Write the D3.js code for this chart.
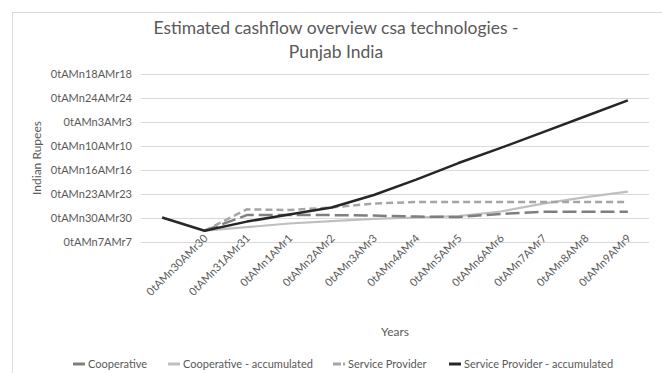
<!DOCTYPE html>
<html>
<head>
<meta charset="utf-8">
<script src="https://cdn.jsdelivr.net/npm/d3@7"></script>
<style>
  body { margin: 0; background: #fff; }
  svg text { font-family: Lato, "Open Sans", sans-serif; fill: #595959; }
</style>
</head>
<body>
<div id="chart"></div>
<script>
// categories (the first one has no label in the original)
const categories = ["", "0tAMn30AMr30", "0tAMn31AMr31", "0tAMn1AMr1", "0tAMn2AMr2", "0tAMn3AMr3",
    "0tAMn4AMr4", "0tAMn5AMr5", "0tAMn6AMr6", "0tAMn7AMr7", "0tAMn8AMr8", "0tAMn9AMr9"];

// y tick labels, bottom to top
const yTickLabels = ["0tAMn7AMr7", "0tAMn30AMr30", "0tAMn23AMr23", "0tAMn16AMr16",
    "0tAMn10AMr10", "0tAMn3AMr3", "0tAMn24AMr24", "0tAMn18AMr18"];

const seriesNames = ["Cooperative", "Cooperative - accumulated", "Service Provider", "Service Provider - accumulated"];

const cooperative = [null, 0.47, 1.12, 1.12, 1.12, 1.10, 1.06, 1.04, 1.17, 1.26, 1.26, 1.26];
const cooperativeAcc = [null, 0.47, 0.62, 0.77, 0.87, 0.96, 1.02, 1.08, 1.27, 1.60, 1.87, 2.10];
const serviceProvider = [null, 0.47, 1.36, 1.33, 1.44, 1.60, 1.67, 1.67, 1.67, 1.67, 1.67, 1.67];
const serviceProviderAcc = [1.02, 0.47, 0.85, 1.15, 1.44, 1.96, 2.60, 3.29, 3.92, 4.58, 5.24, 5.90];

const width = 662, height = 373;
const margin = {top: 74, right: 13, bottom: 131, left: 141};

const svg = d3.select("#chart").append("svg")
    .attr("width", width)
    .attr("height", height);

svg.append("rect")
    .attr("x", 12.5).attr("y", 12.5)
    .attr("width", width).attr("height", height)
    .attr("fill", "#fff")
    .attr("stroke", "#d9d9d9");

const x = d3.scaleBand()
    .domain(categories.map(function (d, i) { return i; }))
    .range([margin.left, width - margin.right]);

const y = d3.scaleLinear()
    .domain([0, 7])
    .range([height - margin.bottom, margin.top]);

// gridlines + y labels
const yAxis = svg.append("g")
    .attr("transform", "translate(" + margin.left + ",0)")
    .call(d3.axisLeft(y)
        .tickValues(d3.range(0, 8))
        .tickSize(-(width - margin.right - margin.left))
        .tickPadding(9)
        .tickFormat(function (d) { return yTickLabels[d]; }));
yAxis.select(".domain").remove();
yAxis.selectAll(".tick line").attr("stroke", "#d9d9d9");
yAxis.selectAll(".tick text")
    .style("font-family", "Lato, sans-serif")
    .attr("font-size", 11)
    .attr("fill", "#595959");

// x labels, rotated
svg.append("g").selectAll("text")
    .data(categories)
    .enter().append("text")
    .attr("transform", function (d, i) {
        return "translate(" + (x(i) + x.bandwidth() / 2 + 4) + ",239) rotate(-45)";
    })
    .attr("text-anchor", "end")
    .attr("font-size", 11)
    .text(function (d) { return d; });

const line = d3.line()
    .defined(function (d) { return d !== null; })
    .x(function (d, i) { return x(i) + x.bandwidth() / 2; })
    .y(function (d) { return y(d); });

const styles = [
    {data: cooperative, color: "#7f7f7f", dash: "14,5", w: 2.5},
    {data: cooperativeAcc, color: "#bfbfbf", dash: null, w: 2.2},
    {data: serviceProvider, color: "#a5a5a5", dash: "7,4", w: 2.5},
    {data: serviceProviderAcc, color: "#262626", dash: null, w: 2.5}
];

const lines = svg.append("g").attr("class", "lines");
[1, 0, 2, 3].forEach(function (k) {
    const s = styles[k];
    lines.append("path")
        .datum(s.data)
        .attr("fill", "none")
        .attr("stroke", s.color)
        .attr("stroke-width", s.w)
        .attr("stroke-dasharray", s.dash)
        .attr("stroke-linejoin", "round")
        .attr("d", line);
});

// title
svg.append("text")
    .attr("x", 336).attr("y", 34)
    .attr("text-anchor", "middle")
    .attr("font-size", 17.5)
    .text("Estimated cashflow overview csa technologies -");
svg.append("text")
    .attr("x", 336).attr("y", 58)
    .attr("text-anchor", "middle")
    .attr("font-size", 17.5)
    .text("Punjab India");

// axis titles
svg.append("text")
    .attr("transform", "translate(41,158) rotate(-90)")
    .attr("text-anchor", "middle")
    .attr("font-size", 12)
    .text("Indian Rupees");
svg.append("text")
    .attr("x", 395).attr("y", 336)
    .attr("text-anchor", "middle")
    .attr("font-size", 12)
    .text("Years");

// legend
const legendX = [73, 168, 333, 449];
const legend = svg.append("g").attr("class", "legend")
    .selectAll("g")
    .data(seriesNames)
    .enter().append("g")
    .attr("transform", function (d, i) { return "translate(" + legendX[i] + ",364)"; });
legend.append("line")
    .attr("x1", 0).attr("x2", 12)
    .attr("stroke", function (d, i) { return styles[i].color; })
    .attr("stroke-width", 3)
    .attr("stroke-dasharray", function (d, i) { return i === 2 ? "8,2" : null; });
legend.append("text")
    .attr("x", 15).attr("y", 4)
    .attr("font-size", 11)
    .text(function (d) { return d; });
</script>
</body>
</html>
